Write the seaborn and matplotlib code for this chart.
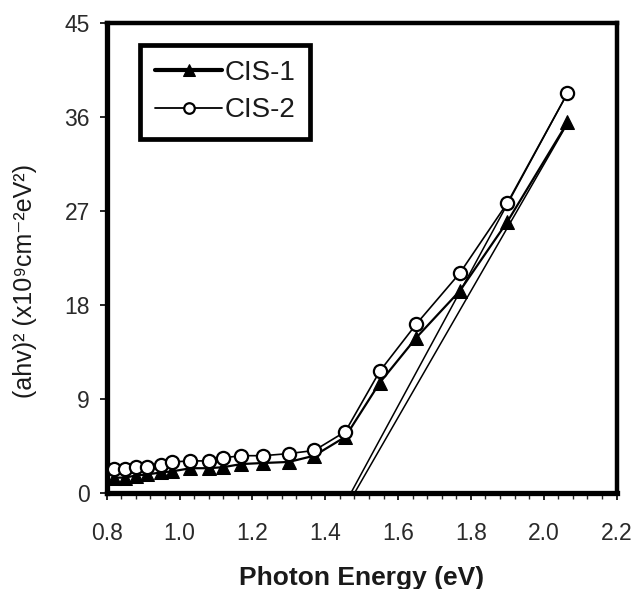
import matplotlib
matplotlib.use("Agg")
import matplotlib.pyplot as plt
from matplotlib.ticker import MultipleLocator
import seaborn as sns
import pandas as pd

# Data
energy = [0.82, 0.85, 0.88, 0.91, 0.95, 0.98, 1.03, 1.08, 1.12, 1.17,
          1.23, 1.30, 1.37, 1.455, 1.55, 1.65, 1.77, 1.90, 2.065]
cis1 = [1.5, 1.5, 1.7, 1.8, 2.0, 2.1, 2.4, 2.4, 2.5, 2.8,
        2.9, 3.0, 3.6, 5.4, 10.6, 14.9, 19.4, 26.0, 35.5]
cis2 = [2.3, 2.3, 2.5, 2.5, 2.7, 3.0, 3.1, 3.1, 3.4, 3.6,
        3.6, 3.8, 4.1, 5.9, 11.7, 16.2, 21.1, 27.8, 38.3]
fit1_x = [1.48, 2.065]
fit1_y = [0.0, 35.4]
fit2_x = [1.47, 2.065]
fit2_y = [0.0, 38.3]
xticks = [0.8, 1.0, 1.2, 1.4, 1.6, 1.8, 2.0, 2.2]
yticks = [0, 9, 18, 27, 36, 45]

sns.set_style("ticks")
plt.rcParams['font.family'] = ['Liberation Sans', 'DejaVu Sans']

fig = plt.figure(figsize=(6.37, 5.89), dpi=100)
ax = fig.add_axes([0.1675, 0.1625, 0.8005, 0.798])

df1 = pd.DataFrame({"E": energy, "v": cis1})
df2 = pd.DataFrame({"E": energy, "v": cis2})

sns.lineplot(data=df1, x="E", y="v", ax=ax, color="black", lw=1.6,
             marker="^", markersize=10, markerfacecolor="black",
             markeredgecolor="black", label="CIS-1", sort=False, zorder=3)
sns.lineplot(data=df2, x="E", y="v", ax=ax, color="black", lw=1.2,
             marker="o", markersize=9.5, markerfacecolor="white",
             markeredgecolor="black", markeredgewidth=1.6,
             label="CIS-2", sort=False, zorder=4)
ax.plot(fit1_x, fit1_y, color="black", lw=1.1, zorder=2)
ax.plot(fit2_x, fit2_y, color="black", lw=1.1, zorder=2)

ax.set_xlim(0.8, 2.2)
ax.set_ylim(0, 45)
ax.set_xticks(xticks)
ax.set_xticklabels([f"{t:.1f}" for t in xticks])
ax.set_yticks(yticks)
ax.xaxis.set_minor_locator(MultipleLocator(0.04))

for s in ["left", "bottom"]:
    ax.spines[s].set_linewidth(3.8)
for s in ["top", "right"]:
    ax.spines[s].set_linewidth(3.2)
for s in ax.spines.values():
    s.set_color("black")

ax.tick_params(axis="both", which="major", direction="out", length=5,
               width=1.2, labelsize=16.5, colors="black")
ax.tick_params(axis="x", which="major", pad=16)
ax.tick_params(axis="y", which="major", pad=7)
ax.tick_params(axis="x", which="minor", direction="out", length=4, width=1.0)
ax.tick_params(axis="both", labelcolor="#2a2a2a")

ax.set_xlabel("Photon Energy (eV)", fontsize=19, fontweight="bold",
              color="#1a1a1a")
ax.xaxis.set_label_coords(0.5, -0.155)
ax.set_ylabel("(ahv)² (x10⁹cm⁻²eV²)", fontsize=18, color="#1a1a1a")
ax.yaxis.set_label_coords(-0.137, 0.452)

leg = ax.legend(loc="upper left", bbox_to_anchor=(0.0653, 0.954), fontsize=20,
                frameon=True, fancybox=False, handlelength=2.4,
                handletextpad=0.08, borderpad=0.55, labelspacing=0.4,
                markerscale=0.8, borderaxespad=0)
leg.get_frame().set_edgecolor("black")
leg.get_frame().set_linewidth(3.4)
leg.get_frame().set_facecolor("white")
leg.get_frame().set_alpha(1)
leg.get_lines()[0].set_linewidth(3.0)
leg.get_lines()[1].set_linewidth(1.3)
for t in leg.get_texts():
    t.set_color("#1a1a1a")

fig.savefig("out.png", dpi=100)
